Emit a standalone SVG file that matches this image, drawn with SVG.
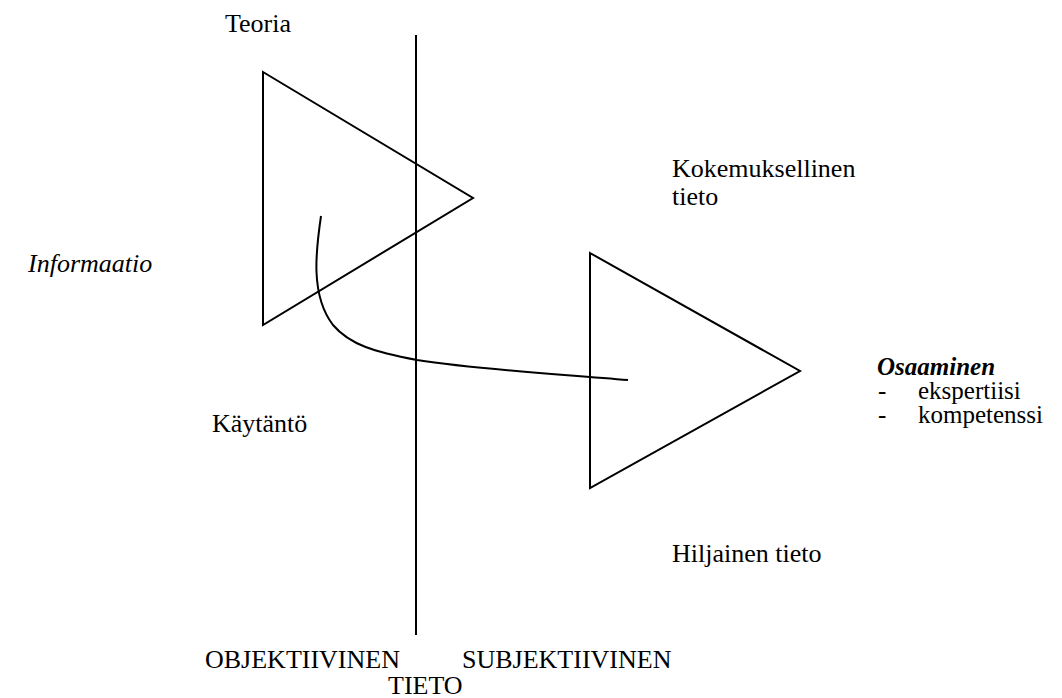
<svg xmlns="http://www.w3.org/2000/svg" width="1062" height="698" viewBox="0 0 1062 698">
  <defs>
    <style>
      .ln { fill: none; stroke: #000; stroke-width: 2; stroke-linejoin: miter; }
      text { font-family: "Liberation Serif", "Times New Roman", serif; font-size: 26px; fill: #000; }
      .it { font-style: italic; }
      .bi { font-style: italic; font-weight: bold; }
      .list { font-size: 25px; }
    </style>
  </defs>
  <rect width="1062" height="698" fill="#fff"/>

  <!-- dividing axis between objective and subjective knowledge -->
  <g id="axis">
    <line class="ln" x1="416" y1="35" x2="416" y2="635"/>
  </g>

  <g id="triangle-teoria">
    <polygon class="ln" points="263,72 473,198 263,325"/>
  </g>

  <g id="triangle-kokemus">
    <polygon class="ln" points="590,253 800,371 590,488"/>
  </g>

  <g id="connectors">
    <path class="ln" d="M321,216 C316,250 310,295 333,325 C350,345 375,352 417,360 C480,370 560,374 628,380"/>
  </g>

  <g id="labels">
    <text x="225" y="32">Teoria</text>
    <text x="672" y="177">Kokemuksellinen</text>
    <text x="672" y="205">tieto</text>
    <text class="it" x="28" y="272">Informaatio</text>
    <text x="212" y="432">Käytäntö</text>
    <text x="672" y="562">Hiljainen tieto</text>
  </g>

  <g id="osaaminen" class="list">
    <text class="bi list" x="877" y="375">Osaaminen</text>
    <text class="list" x="878" y="399">-</text>
    <text class="list" x="918" y="399">ekspertiisi</text>
    <text class="list" x="878" y="423">-</text>
    <text class="list" x="918" y="423">kompetenssi</text>
  </g>

  <g id="axis-labels">
    <text x="205" y="668">OBJEKTIIVINEN</text>
    <text x="462" y="668">SUBJEKTIIVINEN</text>
    <text x="388" y="694">TIETO</text>
  </g>
</svg>
